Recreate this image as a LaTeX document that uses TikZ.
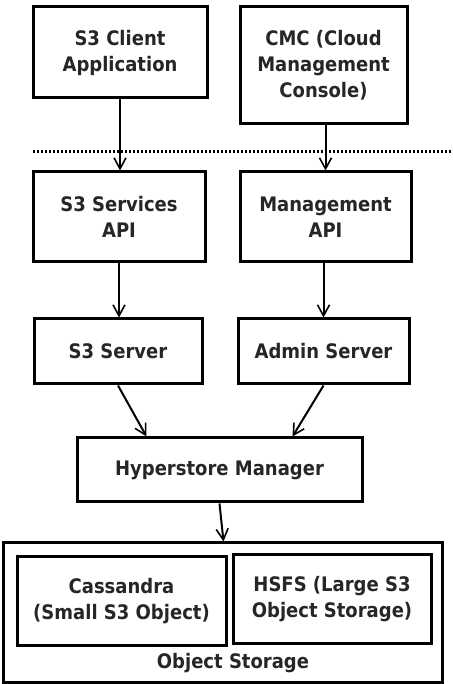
\documentclass[tikz,border=0pt]{standalone}
\usepackage{fontspec}
\setmainfont{DejaVu Sans}[FakeStretch=0.9]
\usetikzlibrary{arrows.meta}

\begin{document}
\begin{tikzpicture}[x=1pt,y=1pt,
		box/.style={draw,line width=3pt,inner sep=0pt,align=center,text=black!85,font=\bfseries\fontsize{20}{26}\selectfont},
		link/.style={line width=2pt,-{Straight Barb[length=11pt,width=12pt,line width=1.6pt]}}]
			\useasboundingbox (0,0) rectangle (452,684);
			% top row
			\node[box,minimum width=174,minimum height=91] (client) at (120,631.5) {S3 Client\\Application};
			\node[box,minimum width=167,minimum height=117] (cmc) at (323.5,618.5) {CMC (Cloud\\Management\\Console)};
			\draw[line width=3pt,dash pattern=on 2pt off 2pt] (33,532) -- (452,532);
			% api row
			\node[box,minimum width=172,minimum height=90] (api) at (119,467) {S3 Services\\API};
			\node[box,minimum width=171,minimum height=90] (mapi) at (325.5,467) {Management\\API};
			% servers
			\node[box,minimum width=168,minimum height=65] (s3srv) at (118,332.5) {S3 Server};
			\node[box,minimum width=171,minimum height=65] (admin) at (323.5,332.5) {Admin Server};
			\node[box,minimum width=285,minimum height=64] (hyper) at (219.5,214) {Hyperstore Manager};
			% storage
			\node[box,minimum width=439,minimum height=140] (storage) at (222.5,71) {};
			\node[box,minimum width=209,minimum height=89] (cassandra) at (121.5,82.5) {Cassandra\\(Small S3 Object)};
			\node[box,minimum width=198,minimum height=89] (hsfs) at (332,84.5) {HSFS (Large S3\\Object Storage)};
			\node[text=black!85,font=\bfseries\fontsize{20}{26}\selectfont] (storelabel) at (233,21) {Object Storage};
			\draw[link] (client.south) -- (client.south |- api.north);
			\draw[link] (mapi.north |- cmc.south) -- (mapi.north);
			\draw[link] (api.south) -- (api.south |- s3srv.north);
			\draw[link] (admin.north |- mapi.south) -- (admin.north);
			\draw[link] (s3srv.south) -- ([xshift=-73pt]hyper.north);
			\draw[link] (admin.south) -- ([xshift=73pt]hyper.north);
			\draw[link] (hyper.south) -- ([xshift=1pt]storage.north);
		\end{tikzpicture}
\end{document}
